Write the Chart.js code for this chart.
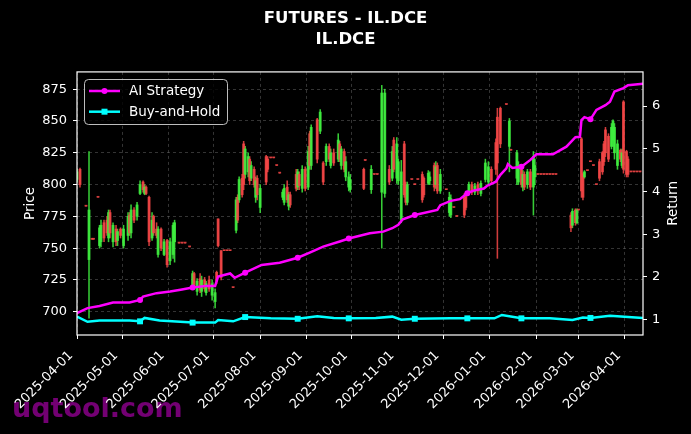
<!DOCTYPE html>
<html>
<head>
<meta charset="utf-8">
<title>FUTURES - IL.DCE</title>
<script src="https://cdn.jsdelivr.net/npm/chart.js@4.4.1/dist/chart.umd.min.js"></script>
<style>
  html, body { margin: 0; padding: 0; background: #000; }
  #wrap { width: 691px; height: 434px; position: relative; }
</style>
</head>
<body>
<div id="wrap"><canvas id="chart" width="691" height="434"></canvas></div>
<script>
// ---- data ----
const candleDates = [
  '2025-04-01','2025-04-03','2025-04-07','2025-04-09','2025-04-11','2025-04-12','2025-04-15','2025-04-16','2025-04-17','2025-04-19','2025-04-21','2025-04-22','2025-04-23','2025-04-25','2025-04-27','2025-04-28','2025-04-30',
  '2025-05-02','2025-05-05','2025-05-06','2025-05-07','2025-05-09','2025-05-11','2025-05-13','2025-05-15','2025-05-16','2025-05-17','2025-05-19','2025-05-21','2025-05-22','2025-05-24','2025-05-25','2025-05-27','2025-05-29','2025-05-31',
  '2025-06-02','2025-06-04','2025-06-05','2025-06-08','2025-06-10','2025-06-12','2025-06-15','2025-06-17','2025-06-18','2025-06-20','2025-06-22','2025-06-23','2025-06-25','2025-06-26','2025-06-28','2025-06-30',
  '2025-07-02','2025-07-03','2025-07-04','2025-07-06','2025-07-08','2025-07-10','2025-07-12','2025-07-14','2025-07-16','2025-07-17','2025-07-18','2025-07-20','2025-07-21','2025-07-22','2025-07-24','2025-07-25','2025-07-26','2025-07-28','2025-07-29','2025-07-30',
  '2025-08-01','2025-08-05','2025-08-06','2025-08-08','2025-08-10','2025-08-12','2025-08-14','2025-08-16','2025-08-17','2025-08-19','2025-08-20','2025-08-21','2025-08-25','2025-08-26','2025-08-27','2025-08-29','2025-08-31',
  '2025-09-02','2025-09-03','2025-09-04','2025-09-08','2025-09-10','2025-09-12','2025-09-14','2025-09-16','2025-09-17','2025-09-19','2025-09-22','2025-09-23','2025-09-24','2025-09-26','2025-09-27','2025-09-29','2025-09-30',
  '2025-10-09','2025-10-10','2025-10-14','2025-10-16','2025-10-18','2025-10-21','2025-10-23','2025-10-26','2025-10-28','2025-10-29','2025-10-31',
  '2025-11-01','2025-11-03','2025-11-05','2025-11-06','2025-11-07','2025-11-10','2025-11-12','2025-11-14','2025-11-17','2025-11-18','2025-11-21','2025-11-22','2025-11-25','2025-11-26','2025-11-27','2025-11-29',
  '2025-12-03','2025-12-05','2025-12-06','2025-12-08','2025-12-10','2025-12-15','2025-12-16','2025-12-18','2025-12-20','2025-12-22','2025-12-24','2025-12-26','2025-12-29','2025-12-31',
  '2026-01-02','2026-01-05','2026-01-06','2026-01-08','2026-01-12','2026-01-14','2026-01-15','2026-01-19','2026-01-20','2026-01-22','2026-01-23','2026-01-24','2026-01-26','2026-01-28','2026-01-30','2026-01-31',
  '2026-02-02','2026-02-04','2026-02-06','2026-02-08','2026-02-10','2026-02-12','2026-02-14','2026-02-24','2026-02-25','2026-02-27','2026-02-28',
  '2026-03-01','2026-03-03','2026-03-04','2026-03-05','2026-03-07','2026-03-09','2026-03-11','2026-03-13','2026-03-15','2026-03-17','2026-03-18','2026-03-19','2026-03-21','2026-03-23','2026-03-24','2026-03-25','2026-03-27','2026-03-29','2026-03-30','2026-03-31',
  '2026-04-02','2026-04-03','2026-04-05','2026-04-07','2026-04-09','2026-04-11'
];
const opens = [
  804,812,783,741,757,757,790,752,755,770,772,758,778,755,765,756,765,
  752,760,776,762,780,775,793,802,793,798,790,758,775,765,745,765,745,756,
  740,745,755,754,754,754,751,720,730,716,726,716,725,715,725,713,
  708,731,773,748,748,748,748,719,764,790,788,805,832,808,810,820,805,812,790,805,
  782,822,820,821,821,815,809,790,786,798,783,792,808,798,808,797,812,
  798,840,815,851,842,817,818,830,815,825,820,832,815,826,806,798,796,
  812,819,796,808,808,794,793,812,805,835,805,
  803,772,832,800,786,804,800,804,808,805,801,803,815,800,815,795,
  796,778,776,782,775,790,793,794,800,794,800,793,804,802,
  812,833,853,860,863,830,827,805,802,812,798,808,800,810,798,806,
  808,808,808,808,808,808,808,776,768,780,770,
  780,836,808,806,811,818,815,800,818,825,832,843,838,830,835,825,815,827,815,865,
  826,820,810,810,810,810
];
const highs = [
  812,813,783,826,757,757,790,768,772,772,775,780,780,770,768,765,766,
  768,778,778,784,782,786,803,803,800,799,791,778,776,770,767,766,757,757,
  758,770,772,754,754,754,751,732,731,726,730,728,727,724,728,725,
  718,732,773,748,748,748,748,719,790,792,806,808,834,830,825,822,818,814,806,807,
  800,823,822,821,821,815,809,796,800,803,794,794,812,812,810,815,814,
  830,842,847,852,859,818,832,832,828,828,840,834,830,828,822,810,808,
  813,819,815,808,808,878,875,815,830,837,837,
  820,819,834,802,802,804,800,804,810,806,811,810,817,818,817,812,
  796,794,792,782,775,793,794,802,802,801,802,803,820,818,
  814,836,860,861,863,852,827,827,818,813,811,810,812,812,826,820,
  808,808,808,808,808,808,808,778,781,781,781,
  780,837,809,811,811,818,815,800,820,826,834,845,840,848,851,848,835,828,828,866,
  827,822,810,810,810,810
];
const lows = [
  802,798,783,695,757,757,790,750,751,755,760,755,758,751,752,752,758,
  750,756,760,758,770,772,792,794,792,792,752,756,760,758,743,748,744,735,
  737,742,739,754,754,754,751,718,718,713,715,712,716,713,716,709,
  703,722,751,725,748,748,748,719,762,770,786,790,796,805,806,800,803,798,786,788,
  778,800,810,821,821,815,809,788,784,786,780,782,795,796,796,794,795,
  796,812,812,817,840,800,815,818,813,815,818,818,812,810,803,795,794,
  796,819,793,808,808,750,790,800,803,810,801,
  800,770,790,784,784,804,800,804,786,790,800,800,795,797,793,793,
  796,775,774,782,775,774,780,792,792,792,792,791,802,800,
  800,808,742,829,863,810,827,800,800,798,795,796,797,796,776,800,
  808,808,808,808,808,808,808,763,766,768,769,
  780,790,788,805,811,818,815,800,803,808,815,822,818,828,830,820,812,818,813,809,
  806,806,810,810,810,810
];
const closes = [
  810,800,783,780,757,757,790,766,768,758,762,778,762,768,755,763,760,
  765,775,762,780,772,784,800,796,798,793,755,772,762,760,765,750,755,737,
  755,768,770,754,754,754,751,730,720,724,717,725,718,722,718,722,
  715,724,752,727,748,748,748,719,788,772,804,792,800,828,822,803,815,800,803,792,
  797,802,812,821,821,815,809,794,797,788,792,784,797,810,799,812,797,
  826,815,845,820,857,802,830,820,825,817,835,820,828,812,818,806,804,
  797,819,812,808,808,872,872,802,826,812,832,
  818,810,792,786,800,804,800,804,788,792,809,806,798,814,795,808,
  796,790,789,782,775,776,782,800,794,799,795,801,817,814,
  803,812,817,832,863,850,827,825,815,800,808,798,810,798,822,815,
  808,808,808,808,808,808,808,766,779,770,780,
  780,795,790,810,811,818,815,800,805,810,818,825,820,845,850,845,832,820,825,812,
  808,808,810,810,810,810
];

const aiDates = [
  '2025-04-01','2025-04-08','2025-04-16','2025-04-25','2025-05-06','2025-05-13','2025-05-15','2025-05-24',
  '2025-06-02','2025-06-09','2025-06-17','2025-06-26','2025-07-02','2025-07-04','2025-07-12','2025-07-15',
  '2025-07-22','2025-08-02','2025-08-14','2025-08-26','2025-09-03','2025-09-12','2025-09-23','2025-09-29',
  '2025-10-13','2025-10-22','2025-10-28','2025-11-01','2025-11-04','2025-11-12','2025-11-27','2025-11-29',
  '2025-12-06','2025-12-12','2025-12-17','2025-12-21','2025-12-28','2025-12-30','2026-01-05','2026-01-08',
  '2026-01-12','2026-01-13','2026-01-16','2026-01-22','2026-01-28','2026-02-01','2026-02-12','2026-02-21',
  '2026-02-27','2026-03-02','2026-03-03','2026-03-05','2026-03-09','2026-03-13','2026-03-19','2026-03-22',
  '2026-03-25','2026-03-31','2026-04-03','2026-04-13'
];
const aiReturn = [
  1.15,1.27,1.32,1.40,1.40,1.46,1.54,1.62,
  1.66,1.70,1.75,1.79,1.79,2.01,2.08,1.98,
  2.10,2.28,2.33,2.45,2.57,2.71,2.83,2.90,
  3.02,3.06,3.14,3.22,3.35,3.45,3.57,3.68,
  3.78,3.82,3.96,4.02,4.07,4.13,4.23,4.39,
  4.54,4.64,4.55,4.58,4.74,4.87,4.87,5.05,
  5.27,5.28,5.67,5.74,5.69,5.91,6.02,6.10,
  6.34,6.42,6.49,6.52
];
const bhDates = [
  '2025-04-01','2025-04-08','2025-04-16','2025-05-06','2025-05-13','2025-05-16','2025-05-26','2025-06-17',
  '2025-07-02','2025-07-04','2025-07-14','2025-07-22','2025-08-08','2025-08-26','2025-09-08','2025-09-19',
  '2025-09-29','2025-10-17','2025-10-28','2025-11-03','2025-11-12','2025-12-06','2025-12-17','2026-01-04',
  '2026-01-09','2026-01-22','2026-02-10','2026-02-25','2026-03-04','2026-03-09','2026-03-22','2026-04-13'
];
const bhReturn = [
  1.07,0.95,0.98,0.98,0.96,1.04,0.98,0.93,
  0.93,0.99,0.96,1.06,1.03,1.02,1.08,1.04,
  1.03,1.04,1.07,1.00,1.02,1.03,1.03,1.03,
  1.11,1.03,1.03,0.99,1.05,1.04,1.09,1.04
];

const monthTicks = ['2025-04-01','2025-05-01','2025-06-01','2025-07-01','2025-08-01','2025-09-01','2025-10-01',
  '2025-11-01','2025-12-01','2026-01-01','2026-02-01','2026-03-01','2026-04-01'];
const priceTicks = [700, 725, 750, 775, 800, 825, 850, 875];
const returnTicks = [1, 2, 3, 4, 5, 6];
const markerDates = ['2025-05-13','2025-06-17','2025-07-22','2025-08-26','2025-09-29','2025-11-12','2025-12-17','2026-01-22','2026-03-09'];

// ---- styling ----
const FONT = 'DejaVu Sans';
const GREEN = 'rgba(64, 240, 64, 0.85)';
const RED = 'rgba(245, 70, 70, 0.85)';
const GRID = 'rgba(120, 120, 120, 0.55)';

const ts = d => Date.parse(d + 'T00:00:00Z');
const markSet = new Set(markerDates.map(ts));

const wickData = candleDates.map((d, i) => ({ x: ts(d), y: [lows[i], highs[i]] }));
const bodyData = candleDates.map((d, i) => ({ x: ts(d), y: [opens[i], closes[i]] }));
const candleColors = closes.map((c, i) => c > opens[i] ? GREEN : RED);
const aiData = aiDates.map((d, i) => ({ x: ts(d), y: aiReturn[i] }));
const bhData = bhDates.map((d, i) => ({ x: ts(d), y: bhReturn[i] }));

const markRadius = r => c => (c.raw && markSet.has(c.raw.x)) ? r : 0;

// watermark under everything, frame over the candles, labels + legend on top
const decor = {
    id: 'decor',
    beforeDraw(chart) {
        const ctx = chart.ctx;
        ctx.save();
        ctx.fillStyle = 'rgba(128, 0, 128, 0.9)';
        ctx.font = 'bold 27px "' + FONT + '"';
        ctx.textAlign = 'left';
        ctx.textBaseline = 'alphabetic';
        ctx.fillText('uqtool.com', 12, 417);
        ctx.restore();
    },
    afterDatasetsDraw(chart) {
        const { ctx, chartArea: a } = chart;
        ctx.save();
        ctx.strokeStyle = '#ffffff';
        ctx.lineWidth = 1.2;
        ctx.strokeRect(a.left, a.top, a.right - a.left, a.bottom - a.top);
        ctx.restore();
    },
    afterDraw(chart) {
        const { ctx, chartArea: a } = chart;
        const midY = (a.top + a.bottom) / 2;
        ctx.save();
        ctx.fillStyle = '#ffffff';
        ctx.font = '13.5px "' + FONT + '"';
        ctx.textAlign = 'center';
        ctx.textBaseline = 'middle';
        [['Price', 30], ['Return', 673]].forEach(([t, x]) => {
            ctx.save();
            ctx.translate(x, midY);
            ctx.rotate(-Math.PI / 2);
            ctx.fillText(t, 0, 0);
            ctx.restore();
        });

        // legend box
        ctx.beginPath();
        if (ctx.roundRect) ctx.roundRect(84.5, 79.5, 143, 45, 4);
        else ctx.rect(84.5, 79.5, 143, 45);
        ctx.fillStyle = 'rgba(0, 0, 0, 0.8)';
        ctx.fill();
        ctx.strokeStyle = 'rgba(210, 210, 210, 0.9)';
        ctx.lineWidth = 1;
        ctx.stroke();

        const items = [
            { label: 'AI Strategy', color: '#ff00ff', shape: 'circle' },
            { label: 'Buy-and-Hold', color: '#00ffff', shape: 'rect' }
        ];
        items.forEach((it, k) => {
            const y = 91 + k * 20.7;
            ctx.strokeStyle = it.color;
            ctx.fillStyle = it.color;
            ctx.lineWidth = 2.5;
            ctx.beginPath();
            ctx.moveTo(89, y);
            ctx.lineTo(120, y);
            ctx.stroke();
            ctx.beginPath();
            if (it.shape === 'circle') ctx.arc(104.5, y, 3, 0, Math.PI * 2);
            else ctx.rect(101.5, y - 3, 6, 6);
            ctx.fill();
            ctx.fillStyle = '#ffffff';
            ctx.textAlign = 'left';
            ctx.font = '13.5px "' + FONT + '"';
            ctx.fillText(it.label, 129, y + 0.5);
        });
        ctx.restore();
    }
};

const tickFont = { family: FONT, size: 13 };

new Chart(document.getElementById('chart'), {
    type: 'bar',
    data: {
        datasets: [
            {
                type: 'line', label: 'AI Strategy', data: aiData, yAxisID: 'y1',
                borderColor: '#ff00ff', backgroundColor: '#ff00ff', borderWidth: 2.5,
                pointStyle: 'circle', pointRadius: markRadius(3), pointBorderWidth: 0,
                pointHoverRadius: 0, order: 0
            },
            {
                type: 'line', label: 'Buy-and-Hold', data: bhData, yAxisID: 'y1',
                borderColor: '#00ffff', backgroundColor: '#00ffff', borderWidth: 2.5,
                pointStyle: 'rect', pointRadius: markRadius(4.2), pointBorderWidth: 0,
                pointHoverRadius: 0, order: 1
            },
            {
                type: 'bar', label: 'body', data: bodyData, yAxisID: 'y',
                backgroundColor: candleColors, borderWidth: 0, barThickness: 2.2,
                minBarLength: 1, grouped: false, order: 2
            },
            {
                type: 'bar', label: 'wick', data: wickData, yAxisID: 'y',
                backgroundColor: candleColors, borderWidth: 0, barThickness: 0.9,
                grouped: false, order: 3
            }
        ]
    },
    options: {
        responsive: false,
        animation: false,
        events: [],
        layout: { padding: 0 },
        plugins: {
            legend: { display: false },
            tooltip: { enabled: false },
            title: {
                display: true,
                text: ['FUTURES - IL.DCE', 'IL.DCE'],
                color: '#ffffff',
                font: { family: FONT, size: 16.5, weight: 'bold', lineHeight: 1.27 },
                padding: { top: 8, bottom: 22 }
            }
        },
        scales: {
            x: {
                type: 'linear',
                min: ts('2025-04-01'),
                max: ts('2026-04-13'),
                offset: false,
                afterBuildTicks: s => { s.ticks = monthTicks.map(t => ({ value: ts(t) })); },
                afterFit: s => { s.height = 99; },
                ticks: {
                    callback: v => new Date(v).toISOString().slice(0, 10),
                    color: '#ffffff', font: tickFont, autoSkip: false,
                    maxRotation: 45, minRotation: 45, padding: 9, labelOffset: -6
                },
                grid: { color: GRID, lineWidth: 0.8, offset: false, tickColor: '#ffffff', tickLength: 4, tickWidth: 1 },
                border: { display: false, dash: [3, 3] }
            },
            y: {
                position: 'left',
                min: 681.7,
                max: 888.6,
                afterBuildTicks: s => { s.ticks = priceTicks.map(v => ({ value: v })); },
                afterFit: s => { s.width = 77; },
                ticks: { color: '#ffffff', font: tickFont, padding: 6 },
                grid: { color: GRID, lineWidth: 0.8, tickColor: '#ffffff', tickLength: 4, tickWidth: 1 },
                border: { display: false, dash: [3, 3] }
            },
            y1: {
                position: 'right',
                min: 0.64,
                max: 6.8,
                afterBuildTicks: s => { s.ticks = returnTicks.map(v => ({ value: v })); },
                afterFit: s => { s.width = 48; },
                ticks: { color: '#ffffff', font: tickFont, padding: 5 },
                grid: { drawOnChartArea: false, tickColor: '#ffffff', tickLength: 4, tickWidth: 1 },
                border: { display: false }
            }
        }
    },
    plugins: [decor]
});
</script>
</body>
</html>
